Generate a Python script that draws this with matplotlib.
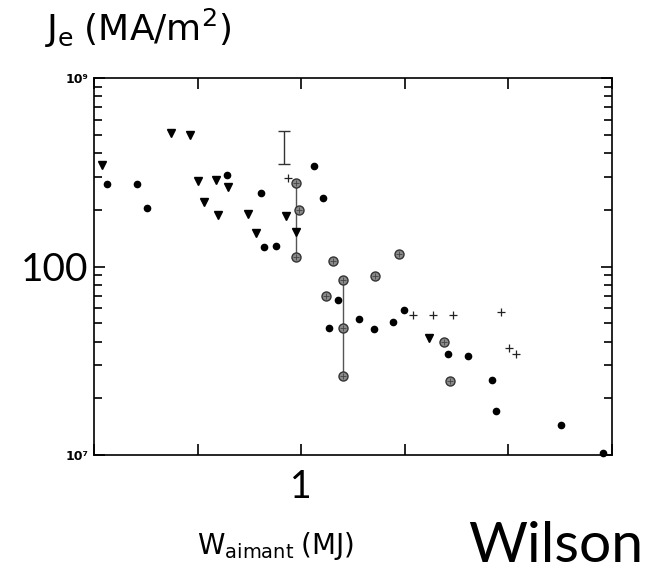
import matplotlib
matplotlib.use('Agg')
import matplotlib.pyplot as plt
from matplotlib.ticker import LogLocator, NullFormatter

plt.rcParams['mathtext.fontset'] = 'custom'
plt.rcParams['mathtext.rm'] = 'Lato'
plt.rcParams['mathtext.it'] = 'Lato:italic'

# W (MJ) and Je (MA/m2)
tri_x = [0.0119, 0.0558, 0.0846, 0.102, 0.150, 0.197, 0.1155, 0.159, 0.306, 0.721, 0.365, 0.889, 17.3]
tri_y = [345, 509, 498, 285, 288, 265, 219, 188, 190, 185, 151, 152, 41.9]

dot_x = [0.0134, 0.0259, 0.0327, 0.194, 0.405, 0.433, 0.577, 1.34, 1.61, 2.26, 3.58, 1.84,
         5.04, 9.89, 7.69, 26.3, 40.8, 69.0, 76.1, 323, 815]
dot_y = [274, 274, 205, 307, 245, 127, 128, 342, 232, 66.4, 52.7, 47.0,
         46.4, 58.6, 50.6, 34.2, 33.5, 25.0, 17.1, 14.4, 10.2]

hatch_x = [0.889, 0.956, 0.889, 2.04, 2.55, 1.73, 2.55, 2.55, 5.11, 8.71, 24.1, 27.5]
hatch_y = [278, 199, 112, 107, 84.8, 70.0, 47.0, 26.3, 89.0, 116.5, 39.9, 24.8]

plus_x = [0.749, 11.9, 18.7, 29.4, 85.0, 100.7, 119.5]
plus_y = [296, 55.3, 55.3, 55.1, 57.1, 36.8, 34.2]

# error bar and the two vertical range lines
err_x = 0.685
err_lo, err_hi = 348, 525
range_x = [0.889, 2.55]
range_lo = [112, 26.3]
range_hi = [278, 84.8]

fig = plt.figure(figsize=(6.6, 5.74), dpi=100)
ax = fig.add_axes([0.1424, 0.2073, 0.7848, 0.6568])
ax.set_xscale('log')
ax.set_yscale('log')
ax.set_xlim(0.01, 1000)
ax.set_ylim(10, 1000)

ax.vlines(range_x, range_lo, range_hi, color='#555555', lw=1.0, zorder=2)
mid = (err_lo + err_hi) / 2
ax.errorbar([err_x], [mid], yerr=[[mid - err_lo], [err_hi - mid]],
            fmt='none', ecolor='#333333', elinewidth=1.0, capsize=4, capthick=1.0, zorder=2)

ax.plot(dot_x, dot_y, 'o', ms=4.5, color='black', zorder=3, clip_on=False)
ax.plot(tri_x, tri_y, 'v', ms=5.5, color='black', zorder=3)
ax.plot(hatch_x, hatch_y, 'o', ms=6.5, mfc='#8a8a8a', mec='#333333', mew=1.0, zorder=3)
ax.plot(hatch_x, hatch_y, '+', ms=5, color='#444444', mew=0.6, zorder=4)
ax.plot(plus_x, plus_y, '+', ms=6, color='#222222', mew=0.9, zorder=3)

for s in ax.spines.values():
    s.set_linewidth(1.2)

ax.set_xticks([0.01, 0.1, 1, 10, 100, 1000])
ax.set_xticklabels(['', '', '1', '', '', ''])
ax.xaxis.set_minor_locator(LogLocator(base=10, subs=[]))
ax.tick_params(axis='x', which='major', direction='in', length=8, width=1.2, top=True, pad=10,
               labelsize=27)
for lab in ax.get_xticklabels():
    lab.set_family('Lato')

ax.set_yticks([10, 100, 1000])
ax.set_yticklabels(['10⁷', '100', '10⁹'])
ax.yaxis.set_minor_locator(LogLocator(base=10, subs=range(2, 10)))
ax.yaxis.set_minor_formatter(NullFormatter())
ax.tick_params(axis='y', which='both', direction='in', width=1.2, right=True, pad=4)
ax.tick_params(axis='y', which='major', length=8)
ax.tick_params(axis='y', which='minor', length=6)
ylabs = ax.get_yticklabels()
for i in (0, 2):
    ylabs[i].set_fontsize(9)
    ylabs[i].set_fontweight('bold')
ylabs[1].set_fontsize(28)
ylabs[1].set_family('Lato')

fig.text(45 / 660, 1 - 28 / 574, r'$\mathregular{J_e\ (MA/m^2)}$', fontsize=26, va='center', ha='left')
fig.text(197 / 660, 1 - 546 / 574, r'$\mathregular{W_{aimant}\ (MJ)}$', fontsize=20, va='center', ha='left')
fig.text(468 / 660, 1 - 546 / 574, 'Wilson', fontsize=41, family='Lato', va='center', ha='left')

fig.savefig('out.png', dpi=100)
